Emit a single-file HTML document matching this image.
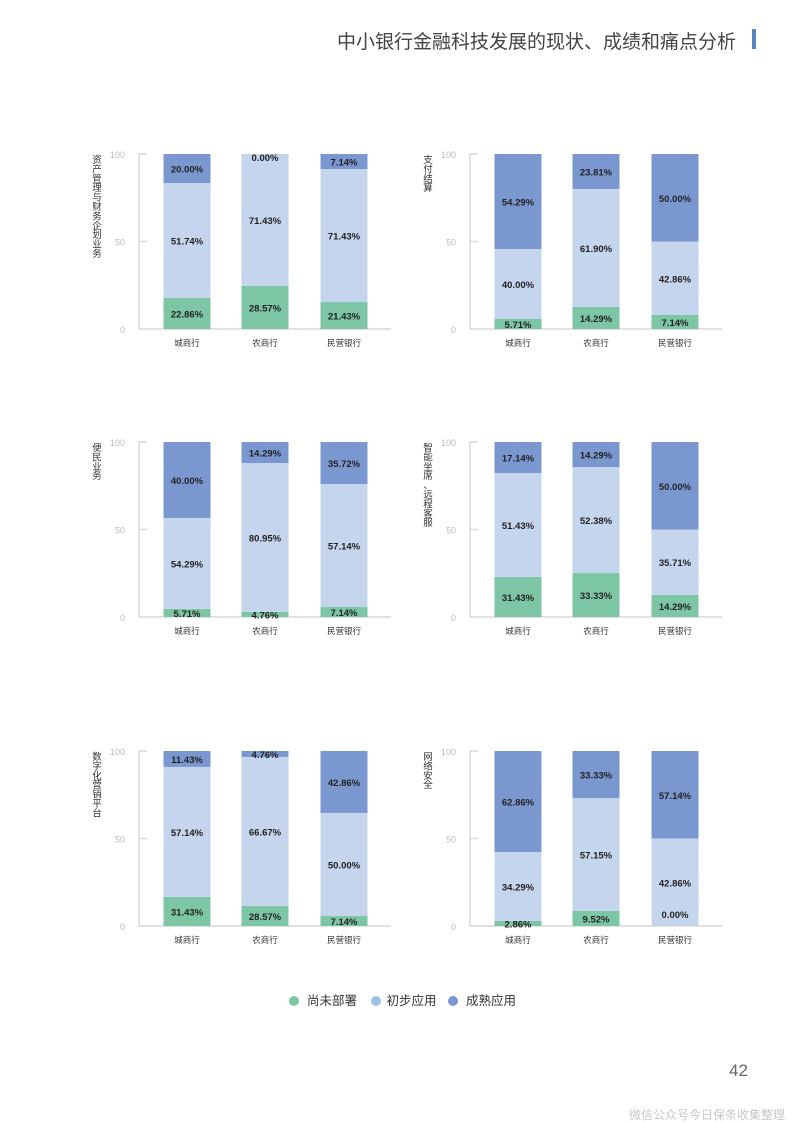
<!DOCTYPE html>
<html><head><meta charset="utf-8"><style>
html,body{margin:0;padding:0;background:#fff;}
body{width:793px;height:1122px;position:relative;overflow:hidden;font-family:"Liberation Sans","Noto Sans CJK SC",sans-serif;}
.t{position:absolute;}
</style></head><body>
<div class="t" style="right:57px;top:27px;font-size:19px;color:#444;white-space:nowrap;">中小银行金融科技发展的现状、成绩和痛点分析</div>
<div class="t" style="left:752px;top:29px;width:4px;height:20px;background:#5b87c0;"></div>
<svg id="chart" width="793" height="1122" style="position:absolute;left:0;top:0;"></svg>
<div class="t" style="left:289px;top:990px;font-size:12.5px;color:#333;white-space:nowrap;">
<span><span style="display:inline-block;width:10px;height:10px;border-radius:50%;background:#7dc6a5;vertical-align:-1px;margin-right:8px;"></span>尚未部署</span>
<span style="margin-left:10px;"><span style="display:inline-block;width:10px;height:10px;border-radius:50%;background:#9dc3e6;vertical-align:-1px;margin-right:6px;"></span>初步应用</span>
<span style="margin-left:8px;"><span style="display:inline-block;width:10px;height:10px;border-radius:50%;background:#7a98cf;vertical-align:-1px;margin-right:8px;"></span>成熟应用</span>
</div>
<div class="t" style="left:729px;top:1061px;font-size:17px;color:#666;">42</div>
<div class="t" style="right:8px;top:1106px;font-size:12px;color:#c8c8c8;">微信公众号今日保条收集整理</div>
<script>
var categories=["城商行","农商行","民营银行"];
var panelTitles=["资产管理与财务企划业务","支付结算","便民业务","智能坐席、远程客服","数字化营销平台","网络安全"];
// printed labels
var notDeployed=[[22.86,28.57,21.43],[5.71,14.29,7.14],[5.71,4.76,7.14],[31.43,33.33,14.29],[31.43,28.57,7.14],[2.86,9.52,0.00]];
var initialUse=[[51.74,71.43,71.43],[40.00,61.90,42.86],[54.29,80.95,57.14],[51.43,52.38,35.71],[57.14,66.67,50.00],[34.29,57.15,42.86]];
var matureUse=[[20.00,0.00,7.14],[54.29,23.81,50.00],[40.00,14.29,35.72],[17.14,14.29,50.00],[11.43,4.76,42.86],[62.86,33.33,57.14]];
// bar heights as drawn in the picture
var notDeployedBar=[[17.7,24.6,15.4],[5.7,12.6,8],[4.6,2.9,5.7],[22.9,25.1,12.6],[16.6,11.4,5.7],[2.9,8.6,0]];
var matureBar=[[16.6,0,8.6],[54.3,20,50],[43.4,12,24],[17.7,14.3,50],[9.1,3.4,35.4],[57.7,26.9,50]];
var yTicks=[0,50,100];
var NS="http://www.w3.org/2000/svg",svg=document.getElementById("chart");
var colors=["#7dc6a5","#c5d5ee","#7a98cf"];
function mk(tag,attrs,parent){var e=document.createElementNS(NS,tag);for(var k in attrs)e.setAttribute(k,attrs[k]);(parent||svg).appendChild(e);return e;}
var colX=[139,470],rowBase=[329,617,926],plotH=175,barW=47,barOff=[48,126,205];
panelTitles.forEach(function(title,p){
  var ax=colX[p%2],base=rowBase[Math.floor(p/2)];
  function y(v){return base-v/100*plotH;}
  var g=mk("g",{});
  
  
  var ln=mk("path",{d:"M"+(ax+8)+" "+y(100)+"H"+ax+"V"+base+"H"+(ax+252),stroke:"#d9d9d9","stroke-width":1.5,fill:"none"},g);
  
  
  mk("line",{x1:ax,x2:ax+8,y1:y(50),y2:y(50),stroke:"#d9d9d9","stroke-width":1.5},g);
  yTicks.forEach(function(t){
    var tx=mk("text",{x:ax-14,y:y(t)+4,"text-anchor":"end","font-size":9,fill:"#bbb"},g);
    tx.textContent=t;
    
    
  });
  var tt=mk("text",{"font-size":9.5,fill:"#333","text-anchor":"middle"},g);
  
  
  Array.from(title).forEach(function(ch,j){
    var ts=mk("tspan",{x:ax-42,y:y(100)+9+j*9.4},tt);
    ts.textContent=ch;
  });
  categories.forEach(function(c,i){
    var x=ax+barOff[i]-barW/2;
    var vals=[notDeployed[p][i],initialUse[p][i],matureUse[p][i]];
    var v0=notDeployedBar[p][i],v1=100-matureBar[p][i];
    var segs=[[0,v0],[v0,v1],[v1,100]];
    segs.forEach(function(s,k){
      var r=mk("rect",{x:x,y:y(s[1]),width:barW,height:Math.max(0,y(s[0])-y(s[1])),fill:colors[k]},g);
      
      
    });
    segs.forEach(function(s,k){
      var ly=(y(s[0])+y(s[1]))/2+4;
      if(k===2&&vals[2]<1)ly=y(100)+7;
      if(k===0&&vals[0]<1)ly=y(0)-8;
      var lt=mk("text",{x:x+barW/2,y:ly,"text-anchor":"middle","font-size":9.5,"font-weight":"bold",fill:"#222"},g);
      lt.textContent=vals[k].toFixed(2)+"%";
      
      
    });
    var cl=mk("text",{x:x+barW/2,y:base+17,"text-anchor":"middle","font-size":8.5,fill:"#333"},g);
    cl.textContent=c;
    
    
  });
});
</script>
</body></html>
